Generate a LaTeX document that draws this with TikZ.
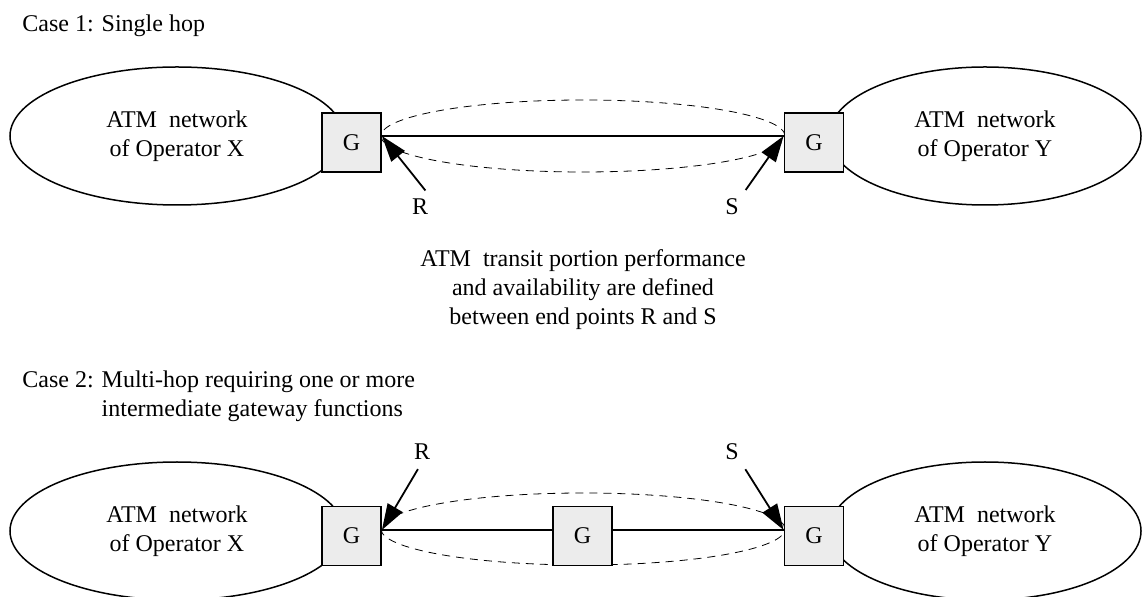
\documentclass[tikz,border=0pt]{standalone}
\usepackage{fontspec}
\setmainfont{Liberation Serif}
\usetikzlibrary{shapes.geometric,arrows.meta,positioning}

\tikzset{
  net/.style={ellipse, draw, line width=0.75pt, inner sep=0pt, minimum width=167pt, minimum height=69pt, align=center},
  hop/.style={ellipse, draw, dash pattern=on 4pt off 3pt, line width=0.4pt, inner sep=0pt, minimum width=202pt, minimum height=36pt},
  gw/.style={draw, fill=gray!15, line width=0.9pt, minimum size=29.5pt, inner sep=0pt},
  link/.style={line width=1pt},
  pointer/.style={line width=0.9pt, -{Triangle[length=13pt,width=8.5pt]}},
  lbl/.style={inner sep=1pt}
}

\begin{document}
\begin{tikzpicture}[x=0.5pt, y=-0.5pt, font=\fontsize{12}{14.5}\selectfont]
\useasboundingbox (0,0) rectangle (1144,597);

% Case 1
\node[anchor=base west, inner sep=0pt] (case1) at (22,32) {Case 1: Single hop};

\node[net] (netX1) at (177,136) {ATM\ \ network\\of Operator X};
\node[net, minimum width=156pt] (netY1) at (985,136) {ATM\ \ network\\of Operator Y};
\node[hop] (hop1) at (583,136) {};
\node[gw] (gX1) at (351.5,142.5) {G};
\node[gw] (gY1) at (814,142.5) {G};
\draw[link] ([yshift=3.25pt]gX1.east) -- ([yshift=3.25pt]gY1.west);

% End points
\node[lbl] (r1) at (420,207) {R};
\node[lbl] (s1) at (732,207) {S};
\draw[pointer, shorten <=4pt] (r1.north east) -- ([yshift=3.25pt]gX1.east);
\draw[pointer, shorten <=4pt] (s1.north east) -- ([yshift=3.25pt]gY1.west);

\node[align=center] (note) at (583,290) {ATM\ \ transit portion performance\\and availability are defined\\between end points R and S};

% Case 2
\node[anchor=north west, align=left, inner sep=0pt] (case2) at (22,370) {Case 2: Multi-hop requiring one or more\\\phantom{Case 2: }intermediate gateway functions};

\node[net] (netX2) at (177,531) {ATM\ \ network\\of Operator X};
\node[net, minimum width=156pt] (netY2) at (985,531) {ATM\ \ network\\of Operator Y};
\node[hop] (hop2) at (583,529) {};
\node[gw] (gX2) at (351.5,536) {G};
\node[gw] (gM2) at (582.5,536) {G};
\node[gw] (gY2) at (814,536) {G};
\draw[link] ([yshift=3pt]gX2.east) -- ([yshift=3pt]gM2.west);
\draw[link] ([yshift=3pt]gM2.east) -- ([yshift=3pt]gY2.west);

% End points
\node[lbl] (r2) at (422,452) {R};
\node[lbl] (s2) at (732,452) {S};
\draw[pointer, shorten <=4pt] (r2.south) -- ([yshift=3pt]gX2.east);
\draw[pointer, shorten <=4pt] (s2.south east) -- ([yshift=3pt]gY2.west);
\end{tikzpicture}
\end{document}
